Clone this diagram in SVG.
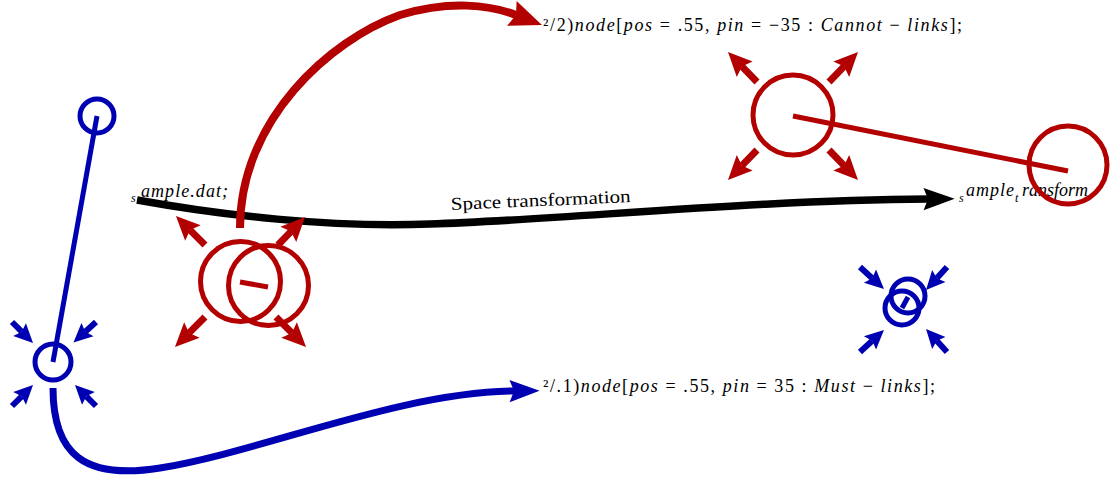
<svg xmlns="http://www.w3.org/2000/svg" width="1116" height="480" viewBox="0 0 1116 480">
  <style>
    .r { stroke: #B30000; fill: none; }
    .b { stroke: #0000B3; fill: none; }
    .circ { stroke-width: 5; fill: none; }
    .sa { stroke-width: 7; }
    .sb { stroke-width: 6; }
    text { font-family: "Liberation Serif", "Times New Roman", "DejaVu Serif", serif; font-size: 18px; fill: #000; }
    .it { font-style: italic; }
    .sub { font-size: 12px; }
  </style>
  <defs>
    <marker id="bigR" markerUnits="userSpaceOnUse" markerWidth="40" markerHeight="40" viewBox="-6 -16 36 32" refX="0" refY="0" orient="auto">
      <path d="M-4,-12 L25,0 L-4,12 L0,0 z" fill="#B30000"/>
    </marker>
    <marker id="bigB" markerUnits="userSpaceOnUse" markerWidth="40" markerHeight="40" viewBox="-6 -16 36 32" refX="0" refY="0" orient="auto">
      <path d="M-4,-10 L23,0 L-4,10 L0,0 z" fill="#0000B3"/>
    </marker>
    <marker id="bigK" markerUnits="userSpaceOnUse" markerWidth="40" markerHeight="40" viewBox="-6 -16 36 32" refX="0" refY="0" orient="auto">
      <path d="M-4,-10 L24,0 L-4,10 L0,0 z" fill="#000"/>
    </marker>
    <marker id="smR" markerUnits="userSpaceOnUse" markerWidth="30" markerHeight="30" viewBox="-6 -15 30 30" refX="0" refY="0" orient="auto">
      <path d="M-4,-11 L20,0 L-4,11 L0,0 z" fill="#B30000"/>
    </marker>
    <marker id="smB" markerUnits="userSpaceOnUse" markerWidth="26" markerHeight="26" viewBox="-5 -13 26 26" refX="0" refY="0" orient="auto">
      <path d="M-3,-9 L16,0 L-3,9 L0,0 z" fill="#0000B3"/>
    </marker>
  </defs>

  <!-- text labels -->
  <g id="label-sample-dat">
    <text x="131" y="202" class="it sub">s</text>
    <text x="141" y="197" class="it" textLength="87" lengthAdjust="spacing">ample.dat;</text>
  </g>
  <g id="label-sample-transform">
    <text x="959" y="202" class="it sub">s</text>
    <text x="966" y="196" class="it" textLength="48" lengthAdjust="spacing">ample</text>
    <text x="1015" y="202" class="it sub">t</text>
    <text x="1022" y="196" class="it">ransform</text>
  </g>

  <!-- connectors -->
  <g id="connectors">
    <path id="space-transformation" d="M137,200 C220,215 330,228 430,224 C560,220 750,200 928,199" stroke="#000" stroke-width="7.5" fill="none" marker-end="url(#bigK)"/>
    <path id="cannot-links" class="r" d="M240,228 C240,120 330,40 400,15 C450,0 490,5 516,15" stroke-width="8" marker-end="url(#bigR)"/>
    <path id="must-links" class="b" d="M53,388 C53,455 85,480 160,468 C260,452 400,392 514,391" stroke-width="7" marker-end="url(#bigB)"/>
    <line class="b" x1="97" y1="116" x2="53" y2="362" stroke-width="5"/>
    <line class="r" x1="793" y1="116" x2="1068" y2="171" stroke-width="5"/>
  </g>

  <text id="label-space" x="541" y="206" text-anchor="middle" transform="rotate(-2.5 541 206)" textLength="180" lengthAdjust="spacingAndGlyphs">Space transformation</text>

  <g id="label-cannot">
    <text x="543" y="31" textLength="419" lengthAdjust="spacing">²/2)<tspan class="it">node</tspan>[<tspan class="it">pos</tspan> = .55, <tspan class="it">pin</tspan> = −35 : <tspan class="it">Cannot</tspan> − <tspan class="it">links</tspan>];</text>
  </g>
  <g id="label-must">
    <text x="543" y="392" textLength="392" lengthAdjust="spacing">²/.1)<tspan class="it">node</tspan>[<tspan class="it">pos</tspan> = .55, <tspan class="it">pin</tspan> = 35 : <tspan class="it">Must</tspan> − <tspan class="it">links</tspan>];</text>
  </g>

  <!-- nodes -->
  <g id="node-blue-top">
    <circle class="b circ" cx="97" cy="116" r="17"/>
  </g>
  <g id="node-blue-bottom">
    <circle class="b circ" cx="53" cy="362" r="18"/>
    <line class="b sb" x1="12" y1="322" x2="21.7" y2="331.7" marker-end="url(#smB)"/>
    <line class="b sb" x1="96" y1="322" x2="85.3" y2="331.7" marker-end="url(#smB)"/>
    <line class="b sb" x1="12" y1="406" x2="21.7" y2="396.3" marker-end="url(#smB)"/>
    <line class="b sb" x1="96" y1="406" x2="86.3" y2="396.3" marker-end="url(#smB)"/>
  </g>
  <g id="node-red-pair">
    <circle class="r circ" cx="240.5" cy="281.5" r="40"/>
    <circle class="r circ" cx="268.5" cy="285.5" r="40"/>
    <line class="r" x1="240" y1="282" x2="268" y2="287" stroke-width="5"/>
    <line class="r sa" x1="205" y1="245" x2="190.1" y2="230.1" marker-end="url(#smR)"/>
    <line class="r sa" x1="278" y1="245" x2="291.1" y2="231.4" marker-end="url(#smR)"/>
    <line class="r sa" x1="205" y1="317" x2="189.1" y2="332.9" marker-end="url(#smR)"/>
    <line class="r sa" x1="276" y1="317" x2="291.9" y2="332.9" marker-end="url(#smR)"/>
  </g>
  <g id="node-red-top">
    <circle class="r circ" cx="793" cy="115" r="40"/>
    <line class="r sa" x1="757" y1="82" x2="741.9" y2="66.4" marker-end="url(#smR)"/>
    <line class="r sa" x1="829" y1="82" x2="844.1" y2="66.4" marker-end="url(#smR)"/>
    <line class="r sa" x1="757" y1="150" x2="741.9" y2="165.6" marker-end="url(#smR)"/>
    <line class="r sa" x1="829" y1="150" x2="844.1" y2="165.6" marker-end="url(#smR)"/>
  </g>
  <g id="node-red-right">
    <circle class="r circ" cx="1068" cy="165" r="39"/>
  </g>
  <g id="node-blue-pair">
    <circle class="b circ" cx="908" cy="296" r="17"/>
    <circle class="b circ" cx="902" cy="308" r="17"/>
    <line class="b" x1="902" y1="308" x2="908" y2="297" stroke-width="5"/>
    <line class="b sb" x1="860" y1="267" x2="872.2" y2="278.2" marker-end="url(#smB)"/>
    <line class="b sb" x1="947" y1="267" x2="936.8" y2="278.2" marker-end="url(#smB)"/>
    <line class="b sb" x1="860" y1="352" x2="872.2" y2="340.8" marker-end="url(#smB)"/>
    <line class="b sb" x1="947" y1="352" x2="936.8" y2="340.8" marker-end="url(#smB)"/>
  </g>
</svg>
